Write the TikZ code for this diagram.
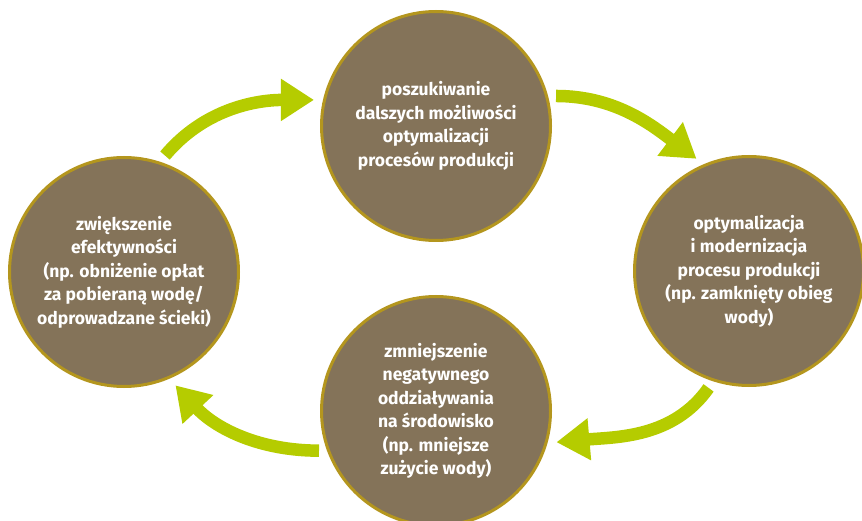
\documentclass[tikz,border=0pt]{standalone}
\usepackage{fontspec}
\setmainfont{Fira Sans}
\usetikzlibrary{arrows.meta}
\definecolor{c1}{RGB}{132,115,89}
\definecolor{c2}{RGB}{180,150,30}
\definecolor{c3}{RGB}{181,204,0}

\begin{document}
\begin{tikzpicture}[x=1pt,y=1pt,
  font=\bfseries\fontsize{17.5}{23.5}\selectfont,
  etap/.style={circle,draw=c2,fill=c1,line width=3pt,minimum size=229pt,
    inner sep=0pt,text=white,align=center},
  cykl/.style={draw=c3,line width=12.5pt,-{Triangle[length=33pt,width=40pt]},
    shorten <=8pt,shorten >=9pt}]

\useasboundingbox (0,0) rectangle (862,-521);

%%% The four stages of the cycle
\node[etap] (szukanie) at (436,-126) {poszukiwanie\\dalszych możliwości\\optymalizacji\\procesów produkcji};
\node[etap] (modern) at (749,-271) {optymalizacja\\i modernizacja\\procesu produkcji\\(np. zamknięty obieg\\wody)};
\node[etap] (srodowisko) at (436,-411) {zmniejszenie\\negatywnego\\oddziaływania\\na środowisko\\(np. mniejsze\\zużycie wody)};
\node[etap] (efekt) at (124,-272) {zwiększenie\\efektywności\\(np. obniżenie opłat\\za pobieraną wodę/\\odprowadzane ścieki)};

%%% Arrows between the stages
\draw[cykl] (efekt.72) to[out=50,in=180] (szukanie.167);
\draw[cykl] (szukanie.15) to[out=0,in=143] (modern.113);
\draw[cykl] (modern.252) to[out=235,in=5] (srodowisko.-16);
\draw[cykl] (srodowisko.200) to[out=180,in=313] (efekt.293);
\end{tikzpicture}
\end{document}
